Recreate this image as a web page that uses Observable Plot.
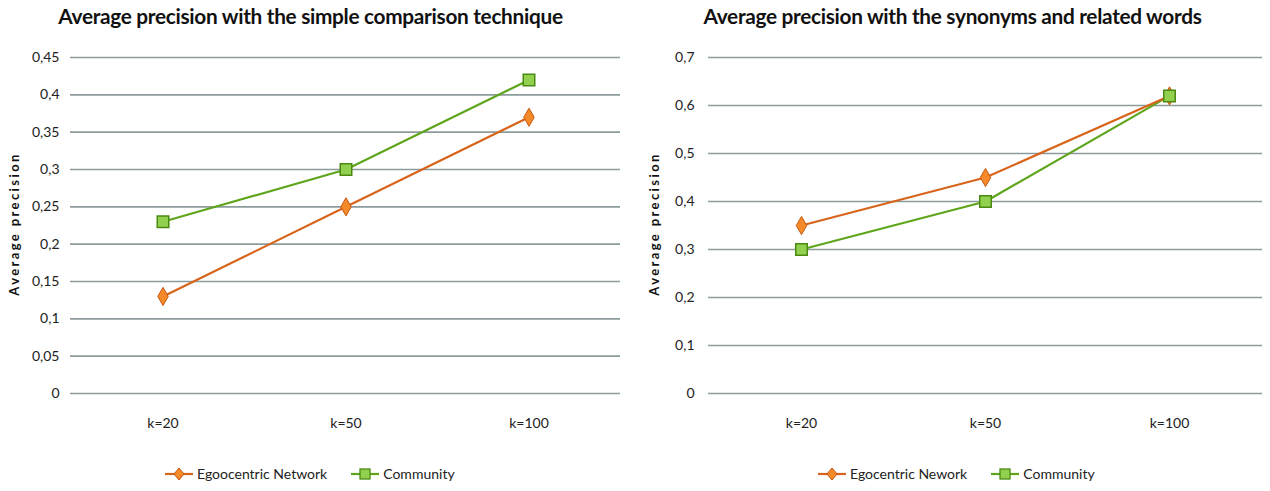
<!DOCTYPE html>
<html><head><meta charset="utf-8">
<script src="https://cdn.jsdelivr.net/npm/d3@7"></script>
<script src="https://cdn.jsdelivr.net/npm/@observablehq/plot@0.6"></script>
<style>
body{margin:0;background:#fff;font-family:Lato,"Open Sans",sans-serif;}
#wrap{display:flex;width:1270px;height:491px;}
.panel{position:relative;width:635px;height:491px;}
.title{position:absolute;top:3px;width:100%;text-align:center;font-weight:bold;font-size:20.8px;color:#111;letter-spacing:-0.3px;}
.plot{position:absolute;top:40px;left:0;}
.ylab{position:absolute;font-weight:bold;font-size:13px;letter-spacing:2.4px;color:#111;transform:rotate(-90deg);transform-origin:center;white-space:nowrap;}
.legend{position:absolute;top:465px;display:flex;align-items:center;font-size:14px;color:#222;}
.legend svg{margin-right:4px;}
.legend span{margin-right:24px;}
</style></head>
<body><div id="wrap"></div>
<script>
const categories = ["k=20","k=50","k=100"];
const egoLeft = [0.13, 0.25, 0.37];
const commLeft = [0.23, 0.30, 0.42];
const egoRight = [0.35, 0.45, 0.62];
const commRight = [0.30, 0.40, 0.62];
const ticksLeft = [0,0.05,0.1,0.15,0.2,0.25,0.3,0.35,0.4,0.45];
const ticksRight = [0,0.1,0.2,0.3,0.4,0.5,0.6,0.7];
const titles = ["Average precision with the simple comparison technique","Average precision with the synonyms and related words"];
const egoNames = ["Egoocentric Network","Egocentric Nework"];
const commName = "Community";

const ORANGE_LINE="#d7641a", ORANGE_FILL="#f58a2a", ORANGE_STROKE="#c8560c";
const GREEN_LINE="#5ea51c", GREEN_FILL="#92d14f", GREEN_STROKE="#4b8a12";
const GRID="#8c9b9b";
const fmt = d => String(d).replace(".", ",");

function panel(idx, ego, comm, ticks, ymax, mL, mR, tickPad, ylabX, legendLeft, titleShift){
  const egoRows = categories.map((c,i)=>({k:c,v:ego[i]}));
  const commRows = categories.map((c,i)=>({k:c,v:comm[i]}));
  const chart = Plot.plot({
    width:635, height:410,
    marginTop:17, marginBottom:57, marginLeft:mL, marginRight:mR,
    style:{fontFamily:"Lato, 'Open Sans', sans-serif", fontSize:"14px", color:"#222", background:"transparent"},
    x:{type:"band", domain:categories, label:null, padding:0, tickSize:0, tickPadding:25},
    y:{domain:[0,ymax], ticks:ticks, tickFormat:fmt, label:null, tickSize:0, tickPadding:tickPad},
    marks:[
      Plot.ruleY(ticks,{stroke:GRID, strokeWidth:1.6}),
      Plot.line(commRows,{x:"k",y:"v",stroke:GREEN_LINE,strokeWidth:2.2}),
      Plot.line(egoRows,{x:"k",y:"v",stroke:ORANGE_LINE,strokeWidth:2.2}),
      Plot.dot(egoRows,{x:"k",y:"v",symbol:"diamond",r:5.5,fill:ORANGE_FILL,stroke:ORANGE_STROKE,strokeWidth:1}),
      Plot.dot(commRows,{x:"k",y:"v",symbol:"square",r:6.5,fill:GREEN_FILL,stroke:GREEN_STROKE,strokeWidth:1.5})
    ]
  });
  const p = document.createElement("div"); p.className="panel";
  const t = document.createElement("div"); t.className="title"; t.textContent=titles[idx];
  t.style.left = titleShift+"px"; p.appendChild(t);
  const pl = document.createElement("div"); pl.className="plot"; pl.appendChild(chart); p.appendChild(pl);
  const yl = document.createElement("div"); yl.className="ylab"; yl.textContent="Average precision";
  yl.style.left=(ylabX-80)+"px"; yl.style.top=(225-9)+"px"; yl.style.width="160px"; yl.style.textAlign="center";
  p.appendChild(yl);
  const lg = document.createElement("div"); lg.className="legend"; lg.style.left=legendLeft+"px";
  lg.innerHTML =
    `<svg width="28" height="16"><line x1="0" y1="8" x2="28" y2="8" stroke="${ORANGE_LINE}" stroke-width="2.2"/><path d="M14 2 L19 8 L14 14 L9 8 Z" fill="${ORANGE_FILL}" stroke="${ORANGE_STROKE}"/></svg><span>${egoNames[idx]}</span>`+
    `<svg width="28" height="16"><line x1="0" y1="8" x2="28" y2="8" stroke="${GREEN_LINE}" stroke-width="2.2"/><rect x="9" y="3" width="10" height="10" fill="${GREEN_FILL}" stroke="${GREEN_STROKE}" stroke-width="1.3"/></svg><span>${commName}</span>`;
  p.appendChild(lg);
  document.getElementById("wrap").appendChild(p);
}
panel(0, egoLeft, commLeft, ticksLeft, 0.45, 70, 15, 11, 14, 165, -7);
panel(1, egoRight, commRight, ticksRight, 0.7, 73, 8, 14, 19, 183, 0);
</script></body></html>
